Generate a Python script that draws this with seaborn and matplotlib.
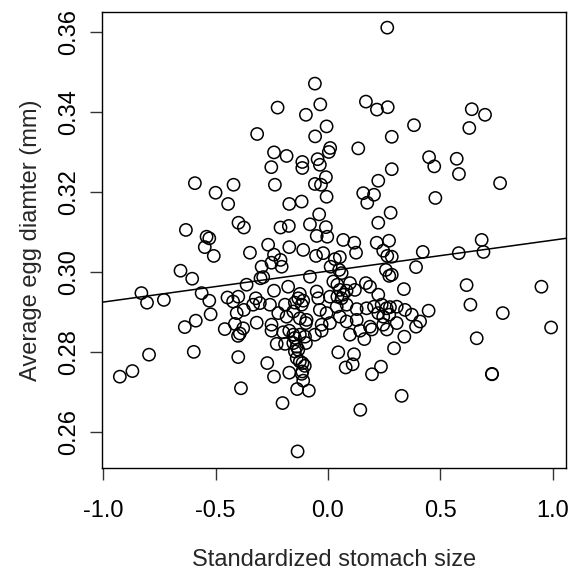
import numpy as np
import pandas as pd
import matplotlib
matplotlib.use("Agg")
import matplotlib.pyplot as plt
import seaborn as sns

# data
stomach = [
    0.264, -0.058, -0.224, -0.034, -0.098, 0.169, 0.218, 0.266, 0.383, -0.006,
    -0.315, -0.057, 0.284, -0.240, -0.184, 0.010, 0.004, 0.135, -0.114, -0.046,
    -0.036, -0.252, -0.114, 0.284, 0.640, 0.699, 0.629, 0.450, 0.573, 0.473,
    0.583, 0.766, 0.478, 0.422, 0.582, 0.684, 0.692, 0.392, 0.617, 0.950,
    0.634, 0.448, 0.778, 0.373, 0.410, 0.392, 0.993, 0.662, 0.730, 0.730,
    -0.592, -0.420, -0.500, -0.444, -0.398, -0.374, -0.632, -0.540, -0.528, -0.548,
    -0.508, -0.347, -0.656, -0.604, -0.830, -0.805, -0.730, -0.562, -0.528, -0.522,
    -0.447, -0.422, -0.399, -0.362, -0.406, -0.374, -0.588, -0.637, -0.459, -0.414,
    -0.377, -0.400, -0.392, -0.796, -0.597, -0.399, -0.870, -0.926, -0.387,
    -0.135, -0.202, 0.144, 0.328, -0.137, -0.085, -0.270, -0.240, -0.172, -0.114,
    -0.110, -0.125, -0.113, -0.139, 0.046, 0.116, 0.079, 0.110, 0.196, 0.236,
    0.294, 0.340, -0.228, -0.191, -0.154, -0.139, -0.098, -0.147, 0.098, 0.162,
    0.143, 0.195, 0.262, -0.251, -0.199, -0.172, -0.154, -0.125, -0.102, -0.058,
    -0.028, -0.147, -0.132, -0.103, -0.117,
    -0.009, 0.224, -0.236, -0.058, -0.031, 0.157, 0.205, 0.175, -0.006, -0.117,
    -0.172, -0.039, 0.279, 0.224, -0.080, -0.009, -0.211, -0.174, -0.050, -0.003,
    0.068, 0.117, 0.217, 0.272, -0.266, -0.172, -0.110, -0.053, -0.021, 0.125,
    0.246, 0.264, 0.284, -0.240, -0.251, -0.211, -0.206, -0.295, 0.031, 0.053,
    0.012, 0.050, 0.061, -0.080, -0.288, -0.300, 0.258, 0.273, 0.284, 0.169,
    0.187, 0.224, 0.338, 0.024, 0.042, 0.053, 0.068, 0.061, 0.042, 0.083,
    0.098, 0.120, 0.009, -0.050, -0.043, -0.125, -0.132, -0.110, -0.147, -0.117,
    -0.177, -0.240, -0.321, -0.303, -0.333, -0.258, -0.191, -0.036, -0.006, 0.039,
    0.083, 0.128, 0.172, 0.205, 0.239, 0.261, 0.276, 0.306, 0.343, 0.224,
    0.246, 0.273, -0.221, -0.184, -0.154, -0.125, -0.095, -0.098, 0.053, 0.083,
    0.128, -0.251, -0.317, -0.028, 0.009, 0.187, 0.246, 0.306,
]
egg = [
    0.3611, 0.3471, 0.3411, 0.3419, 0.3393, 0.3426, 0.3406, 0.3412, 0.3367, 0.3364,
    0.3345, 0.3339, 0.3338, 0.3299, 0.3290, 0.3310, 0.3300, 0.3309, 0.3275, 0.3282,
    0.3268, 0.3262, 0.3260, 0.3257, 0.3407, 0.3393, 0.3360, 0.3287, 0.3283, 0.3264,
    0.3245, 0.3222, 0.3185, 0.3050, 0.3047, 0.3080, 0.3050, 0.3012, 0.2967, 0.2963,
    0.2918, 0.2903, 0.2897, 0.2893, 0.2876, 0.2863, 0.2861, 0.2834, 0.2744, 0.2745,
    0.3222, 0.3218, 0.3198, 0.3170, 0.3123, 0.3111, 0.3105, 0.3088, 0.3084, 0.3062,
    0.3040, 0.3048, 0.3003, 0.2983, 0.2947, 0.2923, 0.2930, 0.2947, 0.2928, 0.2894,
    0.2936, 0.2926, 0.2938, 0.2968, 0.2897, 0.2905, 0.2878, 0.2862, 0.2857, 0.2870,
    0.2859, 0.2840, 0.2846, 0.2793, 0.2800, 0.2787, 0.2752, 0.2738, 0.2709,
    0.2551, 0.2672, 0.2655, 0.2690, 0.2707, 0.2703, 0.2772, 0.2738, 0.2748, 0.2751,
    0.2728, 0.2776, 0.2772, 0.2784, 0.2799, 0.2794, 0.2761, 0.2769, 0.2744, 0.2763,
    0.2809, 0.2838, 0.2820, 0.2820, 0.2822, 0.2813, 0.2822, 0.2801, 0.2843, 0.2832,
    0.2853, 0.2856, 0.2856, 0.2853, 0.2849, 0.2853, 0.2843, 0.2843, 0.2838, 0.2843,
    0.2853, 0.2835, 0.2805, 0.2765, 0.2745,
    0.3237, 0.3228, 0.3218, 0.3220, 0.3218, 0.3197, 0.3193, 0.3173, 0.3188, 0.3176,
    0.3170, 0.3144, 0.3148, 0.3123, 0.3119, 0.3112, 0.3111, 0.3115, 0.3090, 0.3088,
    0.3080, 0.3073, 0.3073, 0.3078, 0.3068, 0.3062, 0.3055, 0.3040, 0.3047, 0.3048,
    0.3053, 0.3040, 0.3038, 0.3043, 0.3023, 0.3030, 0.3013, 0.3013, 0.3032, 0.3037,
    0.3013, 0.3005, 0.2997, 0.2988, 0.2987, 0.2984, 0.3005, 0.2990, 0.2993, 0.2972,
    0.2963, 0.2943, 0.2957, 0.2976, 0.2968, 0.2955, 0.2943, 0.2934, 0.2938, 0.2953,
    0.2972, 0.2955, 0.2938, 0.2951, 0.2934, 0.2945, 0.2934, 0.2928, 0.2923, 0.2918,
    0.2963, 0.2953, 0.2934, 0.2922, 0.2918, 0.2918, 0.2918, 0.2905, 0.2897, 0.2913,
    0.2918, 0.2907, 0.2909, 0.2913, 0.2918, 0.2909, 0.2912, 0.2913, 0.2905, 0.2897,
    0.2888, 0.2893, 0.2897, 0.2888, 0.2901, 0.2884, 0.2880, 0.2872, 0.2888, 0.2876,
    0.2880, 0.2868, 0.2873, 0.2868, 0.2872, 0.2863, 0.2868, 0.2872,
]
# fitted line (intercept, slope)
fit_intercept = 0.3002
fit_slope = 0.00774

x_ticks = [-1.0, -0.5, 0.0, 0.5, 1.0]
y_ticks = [0.26, 0.28, 0.30, 0.32, 0.34, 0.36]

df = pd.DataFrame({"stomach": stomach, "egg": egg})

sns.set_theme(style="ticks")
plt.rcParams["font.family"] = ["Liberation Sans", "DejaVu Sans"]

fig = plt.figure(figsize=(5.69, 5.74), dpi=100)
ax = fig.add_axes([0.179, 0.185, 0.816, 0.794])

sns.scatterplot(data=df, x="stomach", y="egg", ax=ax, marker="o", s=78,
                facecolors="none", edgecolor="black", linewidth=1.1)
ax.axline((0, fit_intercept), slope=fit_slope, color="black", lw=1.1)

ax.set_xlim(-1.006, 1.060)
ax.set_ylim(0.251, 0.365)
ax.set_xticks(x_ticks)
ax.set_xticklabels([f"{v:.1f}" for v in x_ticks])
ax.set_yticks(y_ticks)
ax.set_yticklabels([f"{v:.2f}" for v in y_ticks])

for sp in ax.spines.values():
    sp.set_color("black")
    sp.set_linewidth(1.0)

ax.tick_params(axis="both", direction="out", length=8.5, width=1.0,
               color="#333333", labelsize=17, labelcolor="black")
ax.tick_params(axis="x", pad=15)
ax.tick_params(axis="y", pad=7, labelrotation=90)
for lbl in ax.get_yticklabels():
    lbl.set_va("center")

ax.set_xlabel("Standardized stomach size", fontsize=17, labelpad=19)
ax.set_ylabel("Average egg diamter (mm)", fontsize=17, labelpad=12)

fig.savefig("out.png", dpi=100)
